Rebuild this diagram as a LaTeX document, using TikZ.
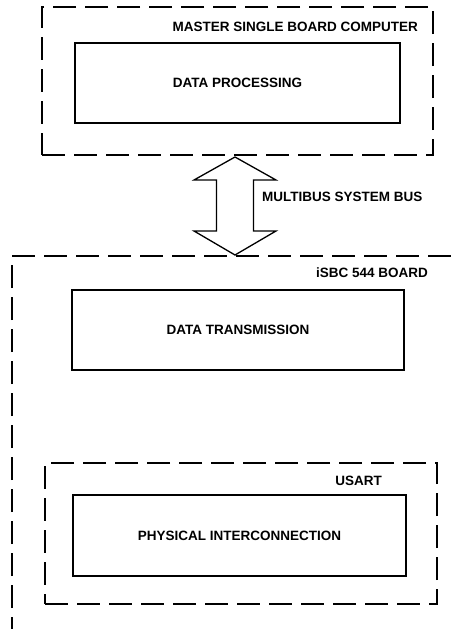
\documentclass[tikz,border=0pt]{standalone}
\usepackage{fontspec}
\setmainfont{Liberation Sans}
\begin{document}
\begin{tikzpicture}[
  x=1pt, y=-1pt,
  block/.style={rectangle, draw, line width=1.3pt, font=\fontsize{13.5}{16}\selectfont\bfseries, align=center, inner sep=0pt},
  dashbox/.style={rectangle, draw, line width=1.2pt, dash pattern=on 23pt off 9pt},
  boardline/.style={draw, line width=1.2pt, dash pattern=on 23pt off 9pt},
  label/.style={font=\fontsize{13.5}{16}\selectfont\bfseries, inner sep=0pt},
  bus/.style={draw, line width=1.3pt, line join=miter}
]
\clip (0,0) rectangle (458,629);

% Master board
\node[dashbox, minimum width=391pt, minimum height=148pt] (master) at (237.5,81) {};
\node[label, anchor=east] (masterlbl) at (418,27) {MASTER SINGLE BOARD COMPUTER};
\node[block, minimum width=325pt, minimum height=80pt] (proc) at (237.5,83) {DATA PROCESSING};

% System bus
\coordinate (bustop) at (235,157);
\coordinate (busbot) at (235,255);
\draw[bus] (bustop) -- ++(41,23) -- ++(-22.5,0) -- ++(0,51) -- ++(22.5,0) -- (busbot)
  -- ++(-41,-24) -- ++(22.5,0) -- ++(0,-51) -- ++(-22.5,0) -- cycle;
\node[label, anchor=west] (buslbl) at (262,197) {MULTIBUS SYSTEM BUS};

% iSBC 544 board (runs off the page)
\coordinate (boardbl) at (12,640);
\coordinate (boardtl) at (12,256);
\coordinate (boardtr) at (470,256);
\draw[boardline] (boardbl) -- (boardtl) -- (boardtr);
\node[label, anchor=east] (boardlbl) at (428,273) {iSBC 544 BOARD};
\node[block, minimum width=332pt, minimum height=80pt] (trans) at (238,330) {DATA TRANSMISSION};

% USART
\node[dashbox, minimum width=392pt, minimum height=141pt] (usart) at (241,533.5) {};
\node[label, anchor=east] (usartlbl) at (382,481) {USART};
\node[block, minimum width=333pt, minimum height=81pt] (phys) at (239.5,535.5) {PHYSICAL INTERCONNECTION};

\end{tikzpicture}
\end{document}
